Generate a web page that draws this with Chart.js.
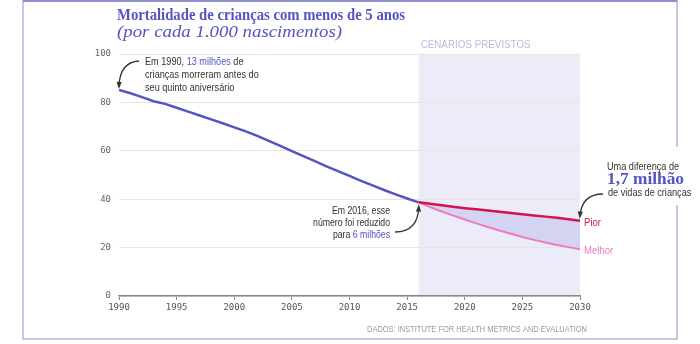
<!DOCTYPE html>
<html lang="pt">
<head>
    <meta charset="UTF-8">
    <title>Mortalidade de crianças com menos de 5 anos</title>
    <style>
        body { margin: 0; background: #ffffff; }
        #wrap { width: 700px; height: 344px; }
    </style>
    <script src="https://cdn.jsdelivr.net/npm/chart.js"></script>
</head>
<body>
    <div id="wrap"><canvas id="myChart" width="700" height="344"></canvas></div>

    <script>
        // historical series, deaths per 1,000 births
        const years = [1990, 1991, 1992, 1993, 1994, 1995, 1996, 1997, 1998, 1999, 2000, 2001, 2002,
                       2003, 2004, 2005, 2006, 2007, 2008, 2009, 2010, 2011, 2012, 2013, 2014, 2015, 2016];
        const mortality = [85.1, 83.8, 82.2, 80.5, 79.4, 77.8, 76.2, 74.6, 73.0, 71.4, 69.7, 68.0, 66.2,
                           64.1, 62.0, 59.9, 57.8, 55.7, 53.6, 51.6, 49.6, 47.6, 45.7, 43.8, 42.0, 40.3, 38.7];

        // forecast scenarios
        const forecastYears = [2016, 2017, 2018, 2019, 2020, 2021, 2022, 2023, 2024, 2025, 2026, 2027, 2028, 2029, 2030];
        const worst = [38.7, 38.1, 37.5, 36.9, 36.3, 35.8, 35.3, 34.8, 34.3, 33.8, 33.3, 32.8, 32.3, 31.7, 31.1];
        const best  = [38.7, 36.7, 34.9, 33.2, 31.6, 30.0, 28.5, 27.1, 25.7, 24.4, 23.2, 22.1, 21.1, 20.2, 19.3];

        const scenarioStart = 2016;
        const scenarioEnd = 2030;

        const purple = '#5454c2';
        const sans = '"Liberation Sans", Arial, sans-serif';
        const serif = '"Liberation Serif", Georgia, serif';
        const squeeze = 0.87; // the original uses a narrow grotesque

        // text with coloured parts; fit = target width, or a plain x-scale when < 5
        function drawText(ctx, parts, x, y, font, align, fit) {
            ctx.font = font;
            const full = parts.map(p => p[0]).join('');
            const natural = ctx.measureText(full).width;
            const sx = fit > 5 ? fit / natural : (fit || 1);
            let start = x;
            if (align === 'right') start = x - natural * sx;
            if (align === 'center') start = x - natural * sx / 2;
            ctx.save();
            ctx.translate(start, y);
            ctx.scale(sx, 1);
            ctx.textAlign = 'left';
            ctx.textBaseline = 'alphabetic';
            let cx = 0;
            parts.forEach(p => {
                ctx.fillStyle = p[1];
                ctx.fillText(p[0], cx, 0);
                cx += ctx.measureText(p[0]).width;
            });
            ctx.restore();
        }

        function arrow(ctx, x0, y0, cx, cy, x1, y1) {
            ctx.save();
            ctx.strokeStyle = '#333';
            ctx.fillStyle = '#333';
            ctx.lineWidth = 1.3;
            ctx.beginPath();
            ctx.moveTo(x0, y0);
            ctx.quadraticCurveTo(cx, cy, x1, y1);
            ctx.stroke();
            const a = Math.atan2(y1 - cy, x1 - cx);
            ctx.beginPath();
            ctx.moveTo(x1 + Math.cos(a) * 3, y1 + Math.sin(a) * 3);
            ctx.lineTo(x1 + Math.cos(a + 2.6) * 5, y1 + Math.sin(a + 2.6) * 5);
            ctx.lineTo(x1 + Math.cos(a - 2.6) * 5, y1 + Math.sin(a - 2.6) * 5);
            ctx.closePath();
            ctx.fill();
            ctx.restore();
        }

        const scenarioBand = {
            id: 'scenarioBand',
            beforeDraw(chart) {
                const { ctx, scales: { x, y } } = chart;
                ctx.save();
                ctx.fillStyle = '#ececf8';
                const l = x.getPixelForValue(scenarioStart);
                const r = x.getPixelForValue(scenarioEnd);
                const t = y.getPixelForValue(100);
                const b = y.getPixelForValue(0);
                ctx.fillRect(l, t, r - l, b - t);
                ctx.restore();
            }
        };

        const decorations = {
            id: 'decorations',
            afterDraw(chart) {
                const { ctx, scales: { x, y } } = chart;

                // frame
                ctx.save();
                ctx.strokeStyle = '#b4b4de';
                ctx.lineWidth = 1.5;
                ctx.beginPath();
                ctx.moveTo(23, 0); ctx.lineTo(23, 339); ctx.lineTo(677, 339); ctx.lineTo(677, 205);
                ctx.moveTo(677, 147); ctx.lineTo(677, 0);
                ctx.stroke();
                ctx.strokeStyle = '#8e8ecc';
                ctx.lineWidth = 2;
                ctx.beginPath();
                ctx.moveTo(23, 1); ctx.lineTo(677, 1);
                ctx.stroke();
                ctx.restore();

                // title
                drawText(ctx, [['Mortalidade de crianças com menos de 5 anos', purple]], 117, 20, 'bold 16.5px ' + serif, 'left', 288);
                drawText(ctx, [['(por cada 1.000 nascimentos)', purple]], 117, 37, 'italic 17px ' + serif, 'left', 225);

                drawText(ctx, [['CENARIOS PREVISTOS', '#b9b9e2']], x.getPixelForValue(scenarioStart) + 2, 48, '10px ' + sans, 'left', 110);

                // 1990 note
                const f = '10.5px ' + sans;
                drawText(ctx, [['Em 1990, ', '#333'], ['13 milhões', purple], [' de', '#333']], 145, 65, f, 'left', squeeze);
                drawText(ctx, [['crianças morreram antes do', '#333']], 145, 78, f, 'left', squeeze);
                drawText(ctx, [['seu quinto aniversário', '#333']], 145, 90.5, f, 'left', squeeze);
                arrow(ctx, 139, 61, 120, 62, x.getPixelForValue(years[0]), y.getPixelForValue(mortality[0]) - 4);

                // 2016 note
                const f2 = '10px ' + sans;
                drawText(ctx, [['Em 2016, esse', '#333']], 390, 214, f2, 'right', squeeze);
                drawText(ctx, [['número foi reduzido', '#333']], 390, 226, f2, 'right', squeeze);
                drawText(ctx, [['para ', '#333'], ['6 milhões', purple]], 390, 238, f2, 'right', squeeze);
                const px16 = x.getPixelForValue(2016);
                const py16 = y.getPixelForValue(mortality[mortality.length - 1]);
                arrow(ctx, 395, 232, 418, 232, px16, py16 + 5);

                // difference note
                drawText(ctx, [['Uma diferença de', '#333']], 607, 170, f, 'left', squeeze);
                drawText(ctx, [['1,7 milhão', purple]], 607, 184, 'bold 16px ' + serif, 'left', 77);
                drawText(ctx, [['de vidas de crianças', '#333']], 608, 196, f, 'left', squeeze);
                const pxEnd = x.getPixelForValue(scenarioEnd);
                arrow(ctx, 603, 194, 582, 194, pxEnd, y.getPixelForValue(worst[worst.length - 1]) - 5);

                // scenario labels
                drawText(ctx, [['Pior', '#d4124f']], pxEnd + 4, 226, '11px ' + sans, 'left', squeeze);
                drawText(ctx, [['Melhor', '#f07ac0']], pxEnd + 4, 254, '11px ' + sans, 'left', squeeze);

                // source
                drawText(ctx, [['DADOS: INSTITUTE FOR HEALTH METRICS AND EVALUATION', '#9a9a9a']], 587, 332, '9px ' + sans, 'right', 220);
            }
        };

        const tickFont = { family: '"DejaVu Sans Mono", monospace', size: 9 };

        new Chart(document.getElementById('myChart').getContext('2d'), {
            type: 'line',
            data: {
                datasets: [
                    {
                        label: 'Histórico',
                        data: years.map((yr, i) => ({ x: yr, y: mortality[i] })),
                        borderColor: purple,
                        borderWidth: 2.5,
                        pointRadius: 0,
                        fill: false
                    },
                    {
                        label: 'Pior',
                        data: forecastYears.map((yr, i) => ({ x: yr, y: worst[i] })),
                        borderColor: '#d4124f',
                        borderWidth: 2.5,
                        pointRadius: 0,
                        fill: false
                    },
                    {
                        label: 'Melhor',
                        data: forecastYears.map((yr, i) => ({ x: yr, y: best[i] })),
                        borderColor: '#f07ac0',
                        borderWidth: 2,
                        pointRadius: 0,
                        fill: '-1',
                        backgroundColor: 'rgba(196, 196, 238, 0.6)'
                    }
                ]
            },
            options: {
                responsive: false,
                animation: false,
                layout: { padding: { left: 0, right: 120, top: 54, bottom: 0 } },
                plugins: {
                    legend: { display: false },
                    tooltip: { enabled: false }
                },
                scales: {
                    x: {
                        type: 'linear',
                        min: 1990,
                        max: 2030,
                        ticks: { stepSize: 5, color: '#555', font: tickFont, padding: 2, maxRotation: 0, callback: v => String(v) },
                        grid: { drawOnChartArea: false, tickLength: 4, color: '#888' },
                        border: { color: '#888', width: 1.5 },
                        afterFit: s => { s.height = 48; }
                    },
                    y: {
                        min: 0,
                        max: 100,
                        ticks: { stepSize: 20, color: '#666', font: tickFont, padding: 8 },
                        grid: { color: '#e6e6e6', drawTicks: false },
                        border: { display: false },
                        afterFit: s => { s.width = 119; }
                    }
                }
            },
            plugins: [scenarioBand, decorations]
        });
    </script>
</body>
</html>
